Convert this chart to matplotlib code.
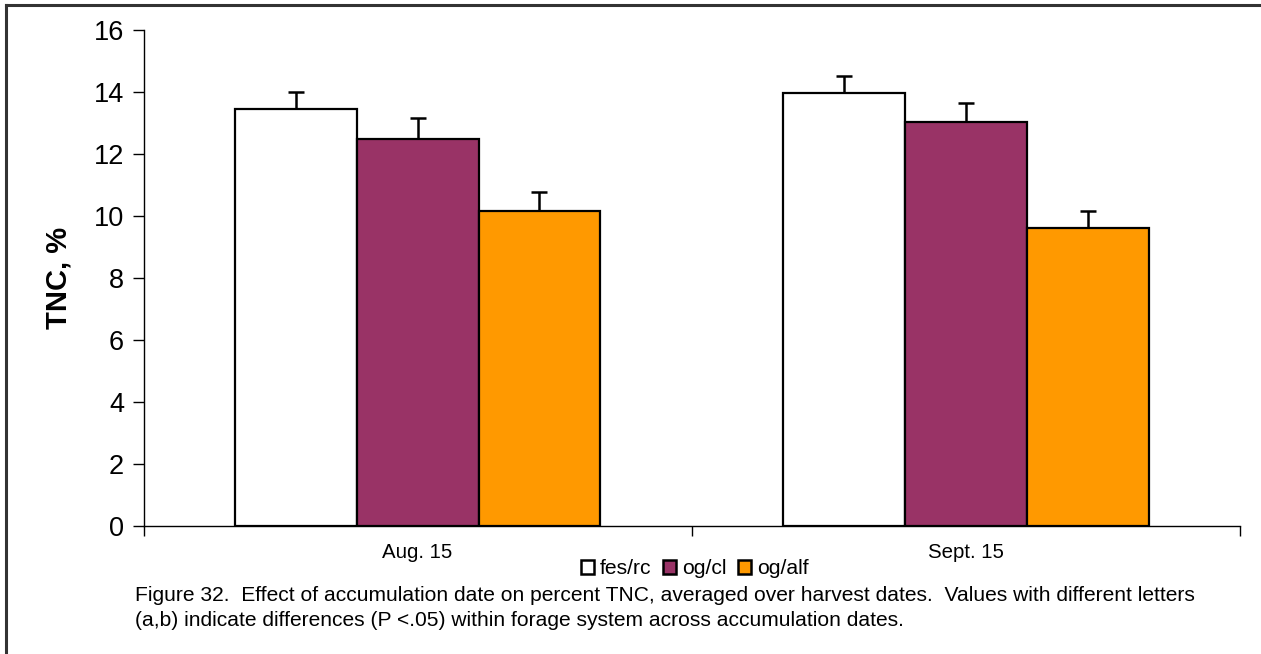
import matplotlib
matplotlib.use("Agg")
import matplotlib.pyplot as plt
import numpy as np
from matplotlib.patches import Patch
from matplotlib.lines import Line2D

plt.rcParams['font.family'] = ['Liberation Sans', 'DejaVu Sans']

categories = ["Aug. 15", "Sept. 15"]
series = ["fes/rc", "og/cl", "og/alf"]
values = {
    "fes/rc": [13.44, 13.96],
    "og/cl": [12.49, 13.03],
    "og/alf": [10.16, 9.60],
}
errors = {
    "fes/rc": [0.56, 0.56],
    "og/cl": [0.66, 0.60],
    "og/alf": [0.60, 0.55],
}
colors = {"fes/rc": "#FFFFFF", "og/cl": "#993366", "og/alf": "#FF9900"}
yticks = [0, 2, 4, 6, 8, 10, 12, 14, 16]
caption = ("Figure 32.  Effect of accumulation date on percent TNC, averaged over harvest dates.  Values with different letters\n"
           "(a,b) indicate differences (P <.05) within forage system across accumulation dates.")

W, H = 1261, 654
fig = plt.figure(figsize=(W / 100, H / 100), dpi=100)
ax = fig.add_axes([143.5 / W, 1 - 526 / H, (1240 - 143.5) / W, (526 - 30) / H])

bw = 1 / 4.5
x = np.arange(len(categories)) + 0.5
for i, s in enumerate(series):
    pos = x + (i - 1) * bw
    ax.bar(pos, values[s], width=bw, color=colors[s], edgecolor="black", linewidth=1.6, zorder=2)
    eb = ax.errorbar(pos, values[s], yerr=[np.zeros(len(categories)), errors[s]], fmt="none",
                     ecolor="black", elinewidth=1.8, capsize=5.5, capthick=1.8, zorder=3)
    caps = eb[1]
    if len(caps) == 2:
        caps[0].set_visible(False)

ax.set_xlim(0, len(categories))
ax.set_ylim(0, 16)
ax.set_yticks(yticks)
ax.set_yticklabels([str(t) for t in yticks], fontsize=19.5)
ax.set_xticks(np.arange(len(categories) + 1))
ax.set_xticklabels([])
ax.set_xticks(x, minor=True)
ax.set_xticklabels(categories, minor=True, fontsize=14.7)
ax.tick_params(axis="x", which="major", length=7, width=1, direction="out")
ax.tick_params(axis="x", which="minor", length=0, pad=12)
ax.tick_params(axis="y", length=8, width=1, direction="out", pad=6)
for sp in ["top", "right"]:
    ax.spines[sp].set_visible(False)
for sp in ["left", "bottom"]:
    ax.spines[sp].set_linewidth(1)
ax.set_ylabel("TNC, %", fontsize=21, fontweight="bold", labelpad=15)

handles = [Patch(facecolor=colors[s], edgecolor="black", linewidth=1.8) for s in series]
leg = fig.legend(handles, series, loc="center", bbox_to_anchor=(695 / W, 1 - 569 / H), ncol=3,
                 frameon=False, fontsize=15.2, handlelength=0.6, handleheight=0.6,
                 handletextpad=0.3, columnspacing=0.55, borderpad=0)

fig.text(135 / W, 1 - 608 / H, caption, fontsize=15.15, ha="left", va="center", linespacing=1.45)

# figure frame (top & left edges visible)
fig.add_artist(Line2D([6 / W, 6 / W], [0, 1 - 5 / H], color="#333333", linewidth=2.2, transform=fig.transFigure))
fig.add_artist(Line2D([6 / W, 1], [1 - 5 / H, 1 - 5 / H], color="#333333", linewidth=2.2, transform=fig.transFigure))

fig.savefig("out.png", dpi=100)
